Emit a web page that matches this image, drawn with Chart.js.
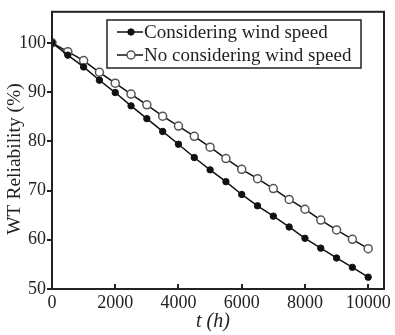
<!DOCTYPE html>
<html>
<head>
<meta charset="utf-8">
<script src="https://cdn.jsdelivr.net/npm/chart.js@4.4.0/dist/chart.umd.min.js"></script>
<style>
  html, body { margin: 0; padding: 0; background: #fff; }
  #wrap { width: 395px; height: 335px; }
</style>
</head>
<body>
<div id="wrap"><canvas id="chart" width="395" height="335"></canvas></div>
<script>
// hours, every 500 h
var hours = [0, 500, 1000, 1500, 2000, 2500, 3000, 3500, 4000, 4500, 5000,
             5500, 6000, 6500, 7000, 7500, 8000, 8500, 9000, 9500, 10000];
var withWind = [100, 97.5, 95.1, 92.4, 89.9, 87.2, 84.6, 82.0, 79.4, 76.7, 74.2,
                71.8, 69.2, 66.9, 64.8, 62.6, 60.3, 58.3, 56.3, 54.4, 52.4];
var noWind = [100, 98.2, 96.4, 94.0, 91.8, 89.6, 87.4, 85.1, 83.1, 81.0, 78.8,
              76.5, 74.3, 72.4, 70.4, 68.2, 66.2, 64.0, 62.0, 60.1, 58.2];
var seriesNames = ['Considering wind speed', 'No considering wind speed'];
var xTicks = [0, 2000, 4000, 6000, 8000, 10000];
var yTicks = [50, 60, 70, 80, 90, 100];

var serif = '"Liberation Serif", "Times New Roman", serif';

function pts(ys) {
    return hours.map(function(h, i) { return { x: h, y: ys[i] }; });
}

// full frame, inward x ticks, axis titles
var frame = {
    id: 'frame',
    afterDatasetsDraw: function(chart) {
        var a = chart.chartArea, ctx = chart.ctx;
        ctx.save();
        ctx.strokeStyle = '#222';
        ctx.lineWidth = 2;
        ctx.strokeRect(a.left, a.top, a.right - a.left, a.bottom - a.top);
        var xs = chart.scales.x;
        xTicks.forEach(function(v) {
            var px = Math.round(xs.getPixelForValue(v));
            ctx.beginPath();
            ctx.moveTo(px, a.bottom);
            ctx.lineTo(px, a.bottom - 5);
            ctx.stroke();
        });
        // axis titles
        ctx.fillStyle = '#222';
        ctx.textAlign = 'center';
        ctx.textBaseline = 'middle';
        ctx.font = 'italic 20px ' + serif;
        ctx.fillText('t (h)', 213, 322);
        ctx.translate(15, 159);
        ctx.rotate(-Math.PI / 2);
        ctx.font = '19.5px ' + serif;
        ctx.fillText('WT Reliability (%)', 0, 0);
        ctx.restore();
    }
};

// boxed legend inside the plot
var boxLegend = {
    id: 'boxLegend',
    afterDraw: function(chart) {
        var ctx = chart.ctx;
        var x0 = 107, y0 = 20, w = 254, h = 48;
        ctx.save();
        ctx.fillStyle = '#fff';
        ctx.fillRect(x0, y0, w, h);
        ctx.strokeStyle = '#222';
        ctx.lineWidth = 1.5;
        ctx.strokeRect(x0, y0, w, h);
        ctx.font = '19px ' + serif;
        ctx.textBaseline = 'middle';
        chart.data.datasets.forEach(function(ds, i) {
            var cy = y0 + 12 + i * 23;
            ctx.strokeStyle = '#111';
            ctx.lineWidth = 1.5;
            ctx.beginPath();
            ctx.moveTo(x0 + 10, cy);
            ctx.lineTo(x0 + 36, cy);
            ctx.stroke();
            ctx.beginPath();
            ctx.arc(x0 + 24, cy, ds.pointRadius, 0, Math.PI * 2);
            ctx.fillStyle = ds.pointBackgroundColor;
            ctx.fill();
            ctx.lineWidth = ds.pointBorderWidth;
            ctx.strokeStyle = ds.pointBorderColor;
            ctx.stroke();
            ctx.fillStyle = '#222';
            ctx.fillText(ds.label, x0 + 37, cy + 1);
        });
        ctx.restore();
    }
};

var ctx = document.getElementById('chart').getContext('2d');
var chart = new Chart(ctx, {
    type: 'line',
    data: {
        datasets: [{
            label: seriesNames[0],
            data: pts(withWind),
            borderColor: '#111',
            borderWidth: 1.5,
            pointRadius: 3.2,
            pointBackgroundColor: '#111',
            pointBorderColor: '#111',
            pointBorderWidth: 1
        }, {
            label: seriesNames[1],
            data: pts(noWind),
            borderColor: '#111',
            borderWidth: 1.5,
            pointRadius: 4,
            pointBackgroundColor: '#fff',
            pointBorderColor: '#555',
            pointBorderWidth: 1.5
        }]
    },
    options: {
        responsive: false,
        animation: false,
        layout: { padding: { top: 8, right: 11, left: 0, bottom: 0 } },
        plugins: {
            legend: { display: false },
            tooltip: { enabled: false }
        },
        scales: {
            x: {
                type: 'linear',
                min: 0,
                max: 10500,
                afterBuildTicks: function(s) { s.ticks = xTicks.map(function(v) { return { value: v }; }); },
                afterFit: function(s) { s.height = 46; },
                grid: { display: false, drawTicks: false },
                border: { display: false },
                ticks: {
                    color: '#222',
                    padding: 3,
                    maxRotation: 0,
                    font: { family: serif, size: 18 },
                    callback: function(v) { return String(v); }
                },
                title: { display: false }
            },
            y: {
                min: 50,
                max: 106.3,
                afterBuildTicks: function(s) { s.ticks = yTicks.map(function(v) { return { value: v }; }); },
                afterFit: function(s) { s.width = 52; },
                grid: { drawOnChartArea: false, drawTicks: true, tickLength: 5, color: '#222', lineWidth: 2 },
                border: { display: false },
                ticks: {
                    color: '#222',
                    padding: 1,
                    font: { family: serif, size: 18 }
                },
                title: { display: false }
            }
        }
    },
    plugins: [frame, boxLegend]
});
</script>
</body>
</html>
